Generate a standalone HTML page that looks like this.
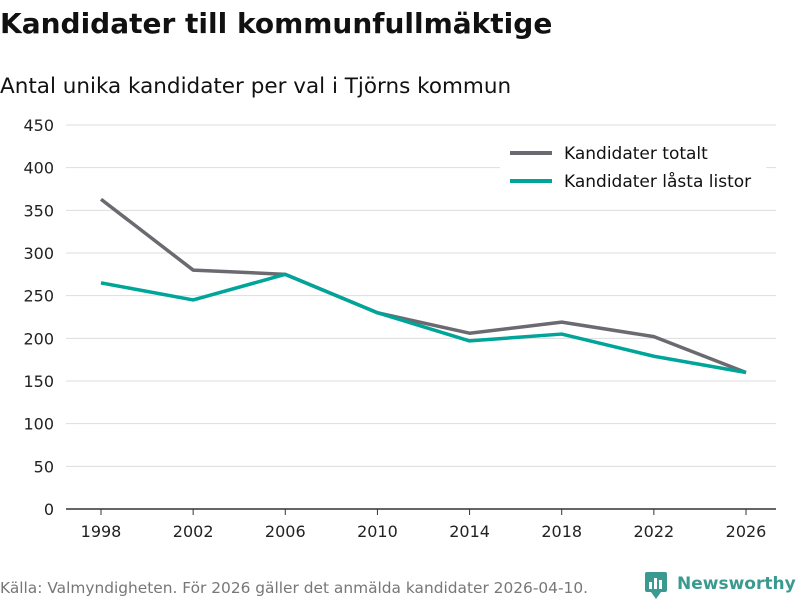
<!DOCTYPE html>
<html><head><meta charset="utf-8">
<style>
body{margin:0;width:800px;height:600px;background:#fff;font-family:"DejaVu Sans","Liberation Sans",sans-serif;overflow:hidden}
</style></head><body>
<svg width="800" height="600" xmlns="http://www.w3.org/2000/svg">
<text x="0" y="33" font-size="28" font-weight="bold" fill="#111">Kandidater till kommunfullmäktige</text>
<text x="0" y="93" font-size="21.5" fill="#111">Antal unika kandidater per val i Tjörns kommun</text>
<g id="grid"></g><g id="lines"></g>
<g>
<rect x="500" y="137" width="266" height="62" fill="#fff"/>
<line x1="510" y1="153" x2="552" y2="153" stroke="#6b6a70" stroke-width="4"/>
<text x="564" y="159" font-size="17" fill="#111">Kandidater totalt</text>
<line x1="510" y1="181" x2="552" y2="181" stroke="#00a599" stroke-width="4"/>
<text x="564" y="187" font-size="17" fill="#111">Kandidater låsta listor</text>
</g>
<text x="0" y="593" font-size="15.4" fill="#777">Källa: Valmyndigheten. För 2026 gäller det anmälda kandidater 2026-04-10.</text>
<g>
<rect x="645" y="572" width="22" height="20" rx="2" fill="#3a9a8f"/>
<path d="M651 592 L656 599 L661 592Z" fill="#3a9a8f"/>
<rect x="649" y="582" width="3" height="7" fill="#fff"/><rect x="654" y="578" width="3" height="11" fill="#fff"/><rect x="659" y="580" width="3" height="9" fill="#fff"/>
<text x="677" y="589" font-size="17" font-weight="bold" fill="#3a9a8f">Newsworthy</text>
</g>
</svg>
<script>
const years=[1998,2002,2006,2010,2014,2018,2022,2026];
const totalt=[363,280,275,230,206,219,202,160];
const lasta=[265,245,275,230,197,205,179,160];
const yTicks=[0,50,100,150,200,250,300,350,400,450];
const NS="http://www.w3.org/2000/svg";
const x=i=>101+i*(746-101)/(years.length-1);
const y=v=>509-v*(384/450);
const grid=document.getElementById('grid'),lines=document.getElementById('lines');
function mk(t,a,p){const e=document.createElementNS(NS,t);for(const k in a)e.setAttribute(k,a[k]);p.appendChild(e);return e;}
yTicks.forEach(v=>{
 const l=mk('line',{x1:66,x2:776,y1:y(v),y2:y(v),stroke:v===0?'#333':'#ddd','stroke-width':v===0?1.5:1},grid);
 
 
 const t=mk('text',{x:54,y:y(v)+6,'font-size':16,fill:'#222','text-anchor':'end'},grid);
 t.textContent=v;
 
 
});
years.forEach((yr,i)=>{
 const l=mk('line',{x1:x(i),x2:x(i),y1:509,y2:515,stroke:'#333'},grid);
 
 
 const t=mk('text',{x:x(i),y:537,'font-size':16,fill:'#222','text-anchor':'middle'},grid);
 t.textContent=yr;
 
 
});
function line(arr,c,n){
 const p=mk('polyline',{points:arr.map((v,i)=>x(i)+','+y(v)).join(' '),fill:'none',stroke:c,'stroke-width':3.5,'stroke-linejoin':'round'},lines);
 
 
}
line(totalt,'#6b6a70','line-totalt');
line(lasta,'#00a599','line-lasta-listor');
</script>
</body></html>
